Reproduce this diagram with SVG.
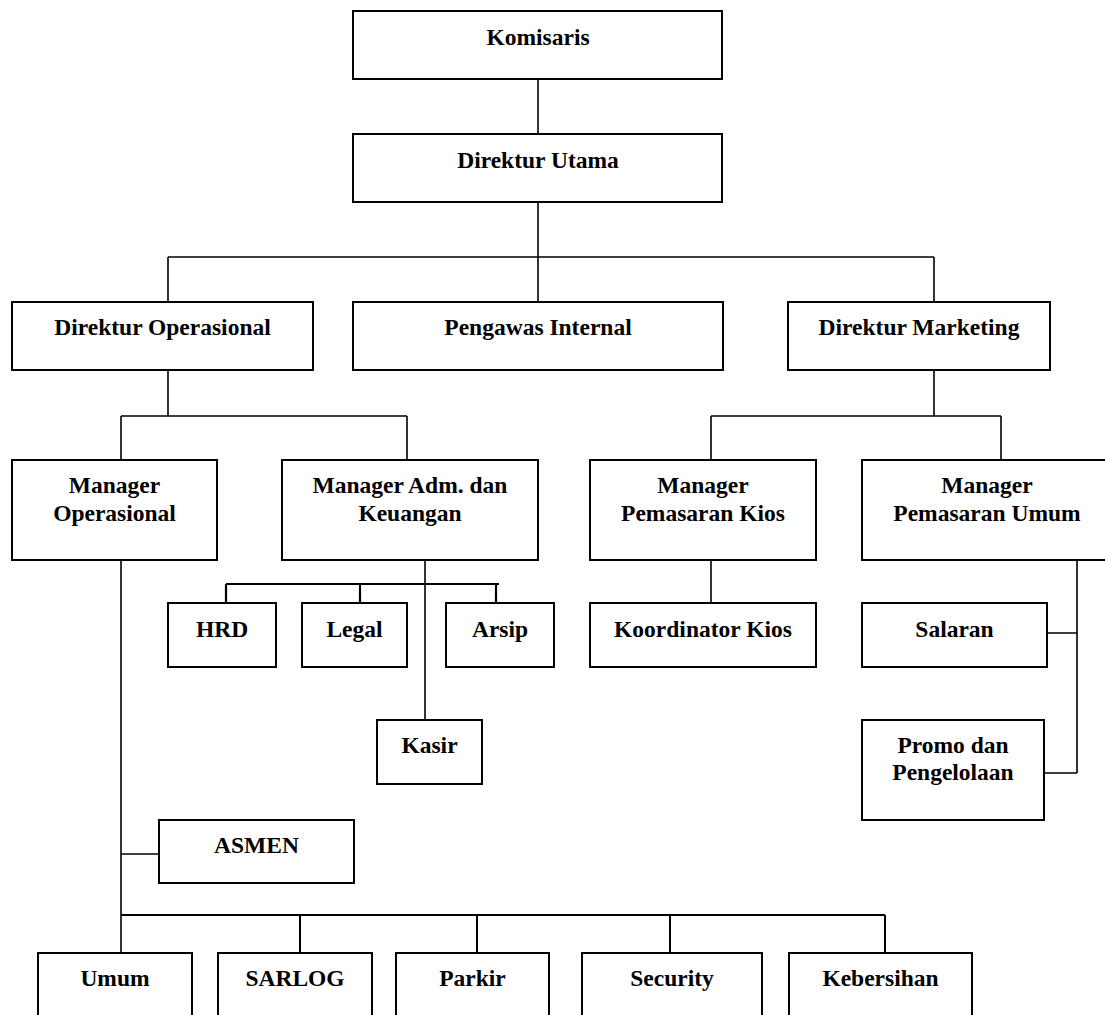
<svg xmlns="http://www.w3.org/2000/svg" width="1105" height="1015" viewBox="0 0 1105 1015">
  <style>
    .box { fill: #ffffff; stroke: #000000; stroke-width: 2; }
    .lbl { font-family: "Liberation Serif", "Times New Roman", serif; font-weight: bold; font-size: 23.5px; text-anchor: middle; fill: #000000; }
    .wire { fill: none; stroke: #000000; stroke-width: 1.6; }
  </style>
  <rect width="1105" height="1015" fill="#ffffff"/>

  <!-- connectors -->
  <g id="connectors" class="wire">
    <path d="M538 79 V134"/>
    <path d="M538 202 V302 M168 257 H934 M168 257 V302 M934 257 V302"/>
    <path d="M168 370 V416 M121 416 H407 M121 416 V460 M407 416 V460"/>
    <path d="M934 370 V416 M711 416 H1001 M711 416 V460 M1001 416 V460"/>
    <path d="M425 560 V720"/>
    <path d="M226 584 H499 M226 584 V603 M360 584 V603 M496 584 V603" stroke-width="2.2"/>
    <path d="M711 560 V603"/>
    <path d="M1077 560 V773 M1047 633 H1077 M1044 773 H1077"/>
    <path d="M121 560 V953 M121 854 H159"/>
    <path d="M121 915 H885 M300 915 V953 M477 915 V953 M670 915 V953 M885 915 V953" stroke-width="2"/>
  </g>

  <!-- level 1 -->
  <g id="komisaris">
    <rect class="box" x="353" y="11" width="369" height="68"/>
    <text class="lbl" x="538" y="45">Komisaris</text>
  </g>
  <g id="direktur-utama">
    <rect class="box" x="353" y="134" width="369" height="68"/>
    <text class="lbl" x="538" y="168">Direktur Utama</text>
  </g>

  <!-- level 2 -->
  <g id="direktur-operasional">
    <rect class="box" x="12" y="302" width="301" height="68"/>
    <text class="lbl" x="162.5" y="335">Direktur Operasional</text>
  </g>
  <g id="pengawas-internal">
    <rect class="box" x="353" y="302" width="370" height="68"/>
    <text class="lbl" x="538" y="335">Pengawas Internal</text>
  </g>
  <g id="direktur-marketing">
    <rect class="box" x="788" y="302" width="262" height="68"/>
    <text class="lbl" x="919" y="335">Direktur Marketing</text>
  </g>

  <!-- level 3 -->
  <g id="manager-operasional">
    <rect class="box" x="12" y="460" width="205" height="100"/>
    <text class="lbl" x="114.5" y="493">Manager</text>
    <text class="lbl" x="114.5" y="521">Operasional</text>
  </g>
  <g id="manager-adm-keuangan">
    <rect class="box" x="282" y="460" width="256" height="100"/>
    <text class="lbl" x="410" y="493">Manager Adm. dan</text>
    <text class="lbl" x="410" y="521">Keuangan</text>
  </g>
  <g id="manager-pemasaran-kios">
    <rect class="box" x="590" y="460" width="226" height="100"/>
    <text class="lbl" x="703" y="493">Manager</text>
    <text class="lbl" x="703" y="521">Pemasaran Kios</text>
  </g>
  <g id="manager-pemasaran-umum">
    <rect class="box" x="862" y="460" width="250" height="100"/>
    <text class="lbl" x="987" y="493">Manager</text>
    <text class="lbl" x="987" y="521">Pemasaran Umum</text>
  </g>

  <!-- administration units -->
  <g id="hrd">
    <rect class="box" x="168" y="603" width="108" height="64"/>
    <text class="lbl" x="222" y="637">HRD</text>
  </g>
  <g id="legal">
    <rect class="box" x="302" y="603" width="105" height="64"/>
    <text class="lbl" x="354.5" y="637">Legal</text>
  </g>
  <g id="arsip">
    <rect class="box" x="446" y="603" width="108" height="64"/>
    <text class="lbl" x="500" y="637">Arsip</text>
  </g>
  <g id="kasir">
    <rect class="box" x="377" y="720" width="105" height="64"/>
    <text class="lbl" x="429.5" y="753">Kasir</text>
  </g>

  <!-- marketing units -->
  <g id="koordinator-kios">
    <rect class="box" x="590" y="603" width="226" height="64"/>
    <text class="lbl" x="703" y="637">Koordinator Kios</text>
  </g>
  <g id="salaran">
    <rect class="box" x="862" y="603" width="185" height="64"/>
    <text class="lbl" x="954.5" y="637">Salaran</text>
  </g>
  <g id="promo-pengelolaan">
    <rect class="box" x="862" y="720" width="182" height="100"/>
    <text class="lbl" x="953" y="753">Promo dan</text>
    <text class="lbl" x="953" y="780">Pengelolaan</text>
  </g>

  <!-- operational units -->
  <g id="asmen">
    <rect class="box" x="159" y="820" width="195" height="63"/>
    <text class="lbl" x="256.5" y="853">ASMEN</text>
  </g>
  <g id="umum">
    <rect class="box" x="38" y="953" width="154" height="80"/>
    <text class="lbl" x="115" y="986">Umum</text>
  </g>
  <g id="sarlog">
    <rect class="box" x="218" y="953" width="154" height="80"/>
    <text class="lbl" x="295" y="986">SARLOG</text>
  </g>
  <g id="parkir">
    <rect class="box" x="396" y="953" width="153" height="80"/>
    <text class="lbl" x="472.5" y="986">Parkir</text>
  </g>
  <g id="security">
    <rect class="box" x="582" y="953" width="180" height="80"/>
    <text class="lbl" x="672" y="986">Security</text>
  </g>
  <g id="kebersihan">
    <rect class="box" x="789" y="953" width="183" height="80"/>
    <text class="lbl" x="880.5" y="986">Kebersihan</text>
  </g>
</svg>
